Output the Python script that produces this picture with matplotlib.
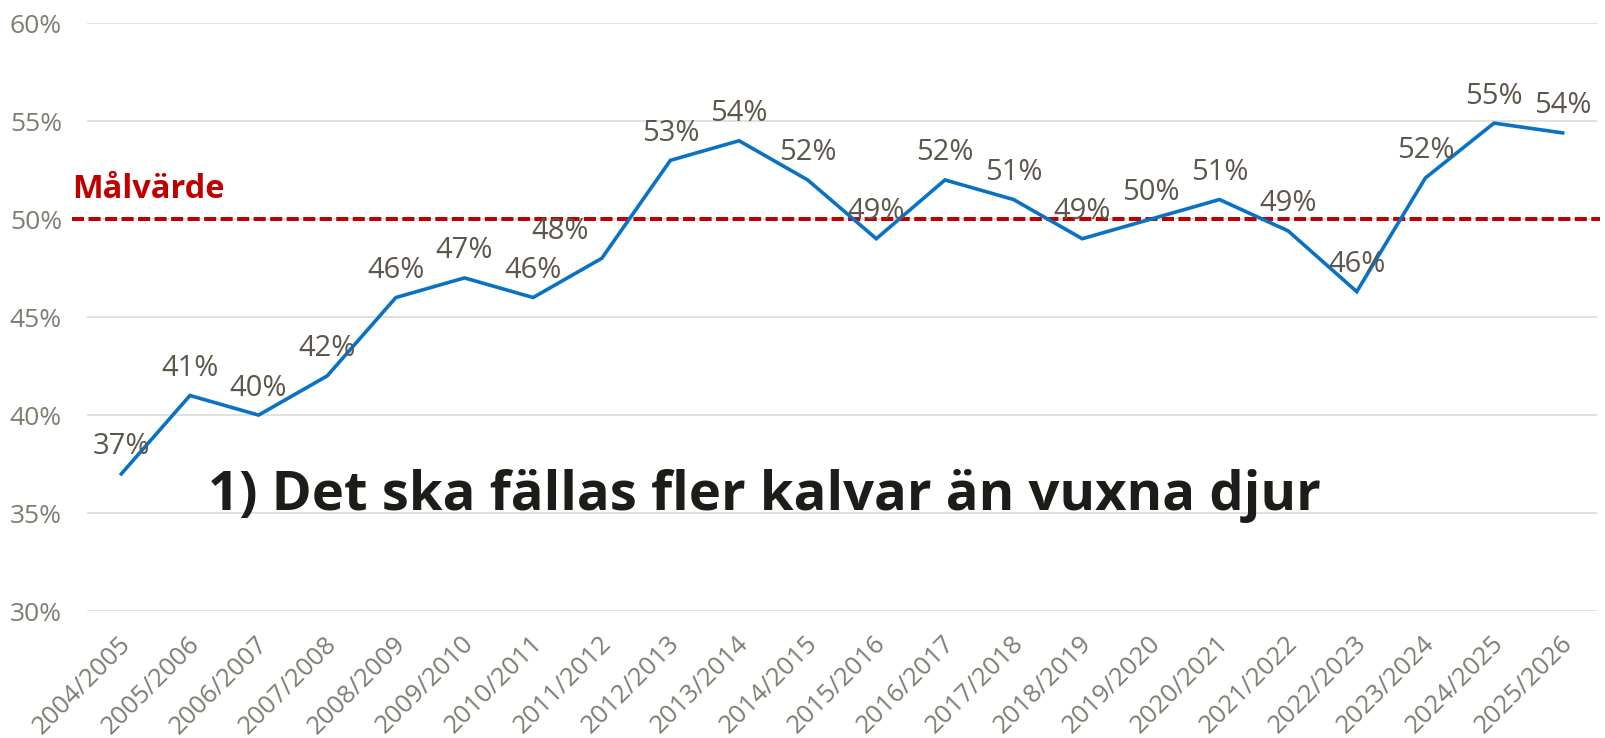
import matplotlib
matplotlib.use("Agg")
import matplotlib.pyplot as plt
import matplotlib.transforms as mtransforms
from matplotlib.ticker import FuncFormatter

seasons = ["2004/2005", "2005/2006", "2006/2007", "2007/2008", "2008/2009", "2009/2010",
           "2010/2011", "2011/2012", "2012/2013", "2013/2014", "2014/2015", "2015/2016",
           "2016/2017", "2017/2018", "2018/2019", "2019/2020", "2020/2021", "2021/2022",
           "2022/2023", "2023/2024", "2024/2025", "2025/2026"]
values = [37.0, 41.0, 40.0, 42.0, 46.0, 47.0, 46.0, 48.0, 53.0, 54.0, 52.0, 49.0,
          52.0, 51.0, 49.0, 50.0, 51.0, 49.4, 46.3, 52.1, 54.9, 54.4]
target = 50.0
target_label = "Målvärde"
note = "1) Det ska fällas fler kalvar än vuxna djur"
yticks = [30, 35, 40, 45, 50, 55, 60]

plt.rcParams['font.family'] = ['Open Sans', 'DejaVu Sans']

fig = plt.figure(figsize=(16.05, 7.38), dpi=100)
ax = fig.add_axes([0.0542, 0.172, 0.9408, 0.7966])

x = list(range(len(seasons)))
ax.set_xlim(-0.5, len(seasons) - 0.5)
ax.set_ylim(30, 60)

ax.set_yticks(yticks)
ax.yaxis.set_major_formatter(FuncFormatter(lambda v, p: f"{v:.0f}%"))
ax.grid(axis='y', color='#dcdcd8', linewidth=1.2)
ax.set_axisbelow(True)
for s in ax.spines.values():
    s.set_visible(False)
ax.tick_params(axis='y', length=0, pad=18, labelsize=19, labelcolor='#7d7d72')
ax.tick_params(axis='x', length=0, pad=14.5, labelsize=18.5, labelcolor='#7d7d72')
ax.set_xticks(x)
ax.set_xticklabels(seasons, rotation=45, ha='right', rotation_mode='anchor')
shift = mtransforms.ScaledTranslation(-3 / 100, 0, fig.dpi_scale_trans)
for lbl in ax.get_xticklabels():
    lbl.set_transform(lbl.get_transform() + shift)

# target line
ax.plot([-0.72, len(seasons) - 0.45], [target, target], color='#C00000', linewidth=2.9,
        linestyle=(0, (3.0, 1.1)), clip_on=False, zorder=2, dash_capstyle='butt')
ax.text(-0.72, target + 1.1, target_label, color='#C00000', fontsize=23.5, fontweight='bold',
        ha='left', va='baseline')

# data line
ax.plot(x, values, color='#0A72C4', linewidth=2.6, zorder=3, solid_joinstyle='miter')

for i, v in enumerate(values):
    dx = -30 if i == 7 else 0
    ax.annotate(f"{round(v):.0f}%", (i, v), xytext=(dx, 9), textcoords='offset points',
                ha='center', va='bottom', fontsize=21, color='#5c574c', zorder=4)

ax.text(1.26, 35.15, note, fontsize=39.2, fontweight='bold', color='#1c1c18',
        ha='left', va='baseline')

fig.savefig("out.png", dpi=100)
